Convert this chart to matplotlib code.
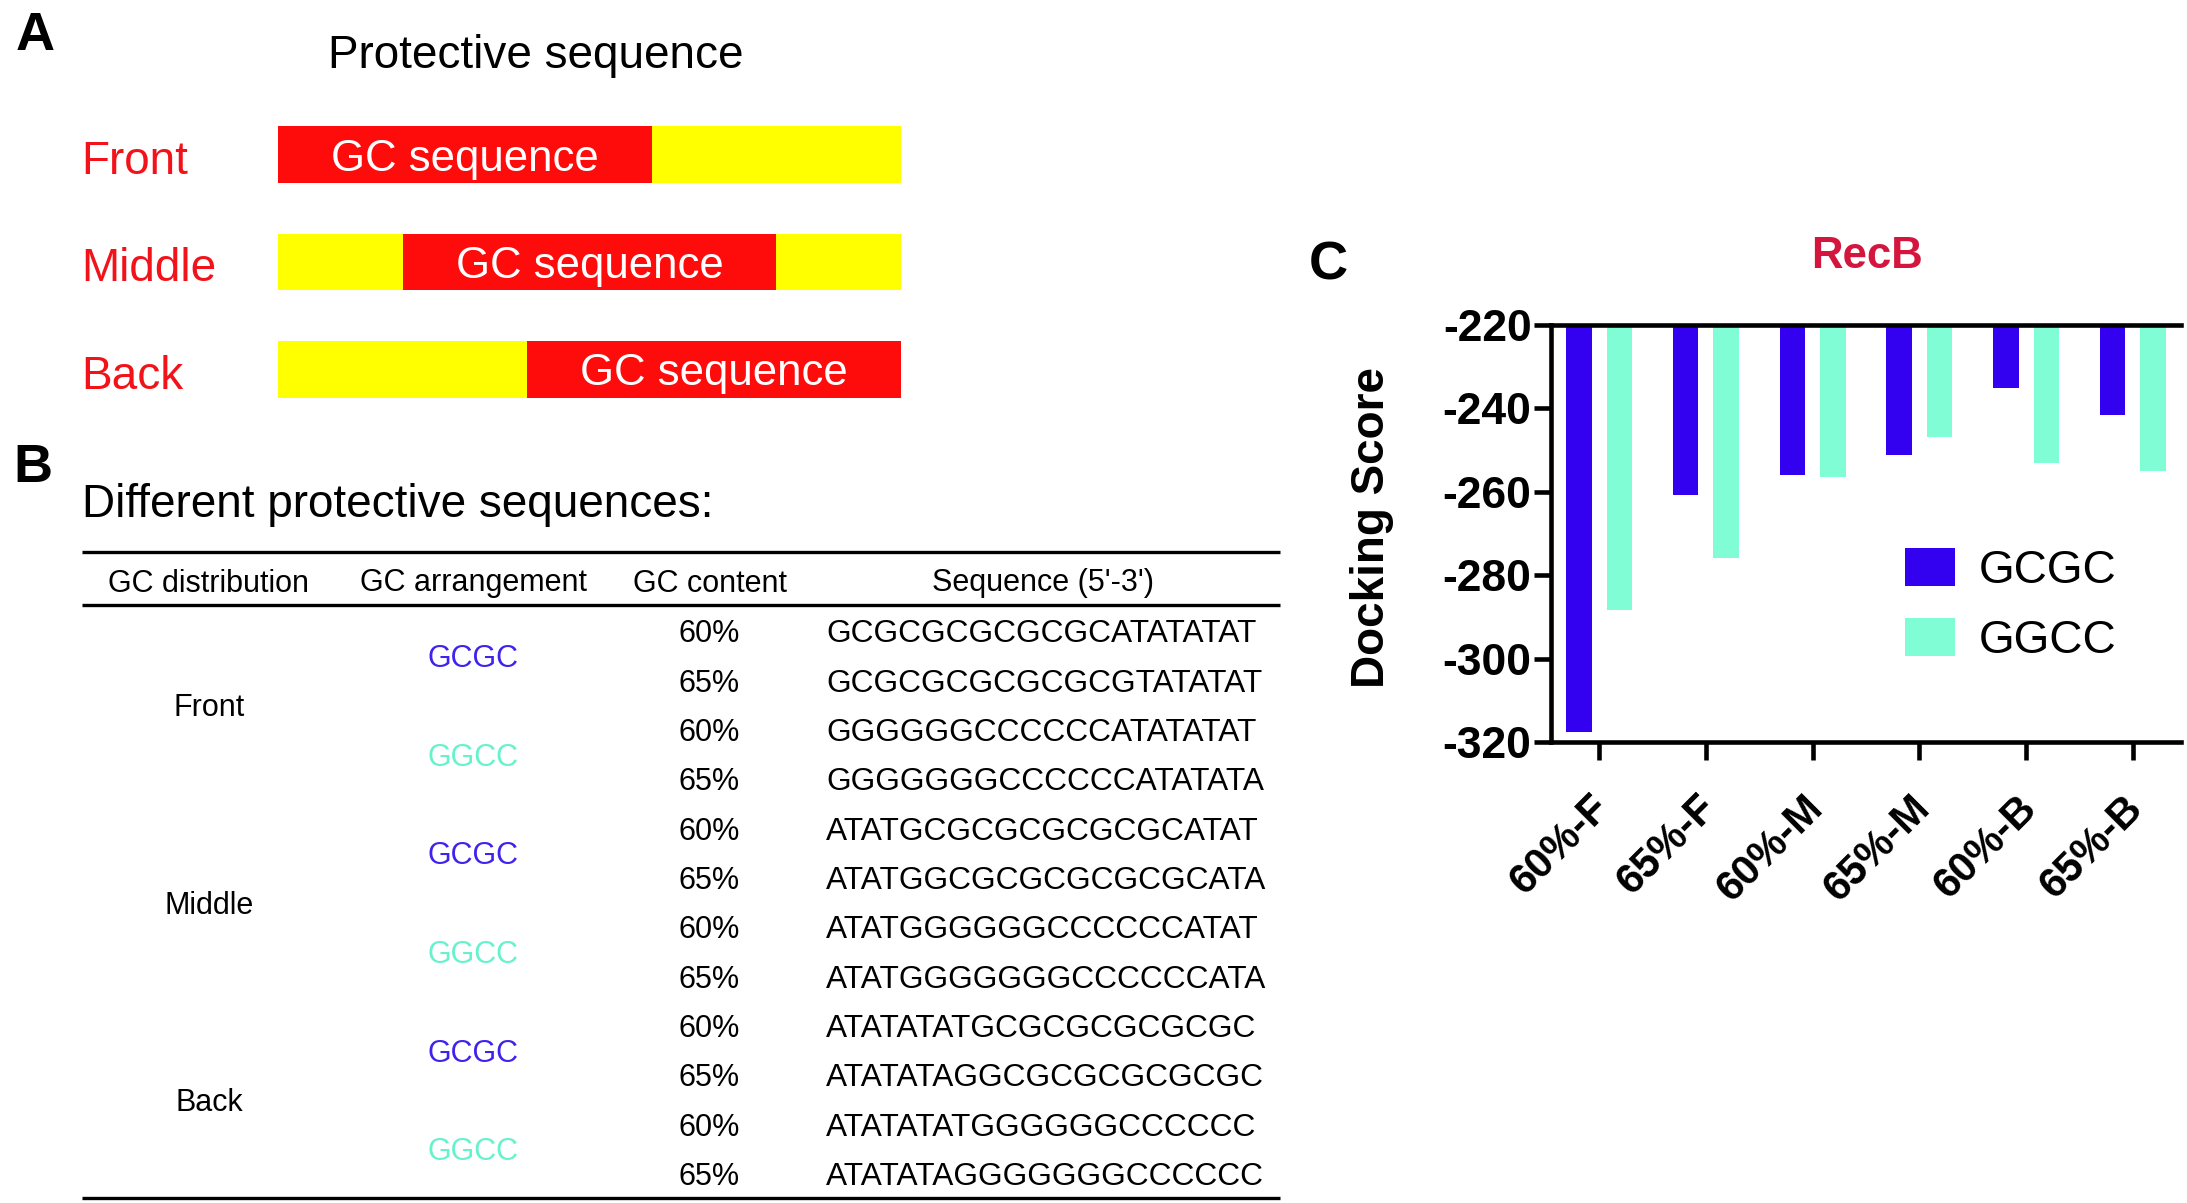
import numpy as np
import matplotlib
matplotlib.use('Agg')
import matplotlib.pyplot as plt
import matplotlib.transforms as mtransforms

W, H = 2187, 1203

# panel A
a_rows = ['Front', 'Middle', 'Back']
gc_start = [0.0, 0.2, 0.4]
gc_share = 0.6

# panel B
table_header = ['GC distribution', 'GC arrangement', 'GC content', "Sequence (5'-3')"]
distributions = ['Front', 'Middle', 'Back']
arrangements = ['GCGC', 'GGCC']
gc_contents = ['60%', '65%']
sequences = [
    'GCGCGCGCGCGCATATATAT',
    'GCGCGCGCGCGCGTATATAT',
    'GGGGGGCCCCCCATATATAT',
    'GGGGGGGCCCCCCATATATA',
    'ATATGCGCGCGCGCGCATAT',
    'ATATGGCGCGCGCGCGCATA',
    'ATATGGGGGGCCCCCCATAT',
    'ATATGGGGGGGCCCCCCATA',
    'ATATATATGCGCGCGCGCGC',
    'ATATATAGGCGCGCGCGCGC',
    'ATATATATGGGGGGCCCCCC',
    'ATATATAGGGGGGGCCCCCC',
]

# panel C
categories = ['60%-F', '65%-F', '60%-M', '65%-M', '60%-B', '65%-B']
gcgc_scores = [-317.6, -260.8, -256.0, -251.2, -235.0, -241.7]
ggcc_scores = [-288.4, -275.8, -256.5, -246.8, -253.2, -255.0]

BLUE = '#3300f0'
AQUA = '#80fdd4'
RED = '#fe0c0c'
TXT_RED = '#f2131a'
YELLOW = '#ffff00'
RECB = '#d4163f'

plt.rcParams['font.family'] = ['Liberation Sans', 'DejaVu Sans']
plt.rcParams['axes.unicode_minus'] = False

fig = plt.figure(figsize=(W / 100, H / 100), dpi=100)


def fx(x):
    return x / W


def fy(y):
    return 1 - y / H


# text layer in pixel coordinates (y downwards)
ax_t = fig.add_axes([0, 0, 1, 1])
ax_t.set_xlim(0, W)
ax_t.set_ylim(H, 0)
ax_t.axis('off')

# panel letters
for letter, (lx, ly) in zip('ABC', [(35, 31), (33, 462), (1328, 260)]):
    ax_t.text(lx, ly, letter, fontsize=39, weight='bold', ha='center', va='center_baseline')

# ---- panel A
ax_t.text(536, 51, 'Protective sequence', fontsize=33, ha='center', va='center_baseline')
row_h = 107.5
a_top = 154.5 - row_h / 2
ax_a = fig.add_axes([fx(278), fy(a_top + 3 * row_h), (901 - 278) / W, 3 * row_h / H])
ax_a.set_xlim(0, 1)
ax_a.set_ylim(2.5, -0.5)
ax_a.axis('off')
for i, (name, s) in enumerate(zip(a_rows, gc_start)):
    ax_a.barh(i, 1, height=0.53, color=YELLOW)
    ax_a.barh(i, gc_share, left=s, height=0.53, color=RED)
    ax_a.text(s + gc_share / 2, i, 'GC sequence', color='white', fontsize=31.5,
              ha='center', va='center_baseline')
    ax_a.text(-0.316, i + 0.02, name, color=TXT_RED, fontsize=33,
              ha='left', va='center_baseline', clip_on=False)

# ---- panel B
ax_t.text(82, 500, 'Different protective sequences:', fontsize=33, ha='left', va='center_baseline')
ax_t.hlines([551.5, 605, 1198], 82, 1280, color='black', lw=2.4)
col_x = [209, 473, 710, 1043]
for cx, head in zip(col_x, table_header):
    ax_t.text(cx, 580, head, fontsize=22, ha='center', va='center_baseline')

row_y = 631 + 49.3 * np.arange(len(sequences))
for i, seq in enumerate(sequences):
    ax_t.text(709, row_y[i], gc_contents[i % 2], fontsize=22, ha='center', va='center_baseline')
    ax_t.text(826, row_y[i], seq, fontsize=22.8, ha='left', va='center_baseline')
for j in range(len(sequences) // 2):
    arr = arrangements[j % 2]
    ax_t.text(473, row_y[2 * j:2 * j + 2].mean(), arr, fontsize=22,
              color='#3f22ec' if arr == 'GCGC' else '#66f2cc', ha='center', va='center_baseline')
for k, d in enumerate(distributions):
    ax_t.text(209, row_y[4 * k:4 * k + 4].mean(), d, fontsize=22, ha='center', va='center_baseline')

# ---- panel C
ax_c = fig.add_axes([fx(1551), fy(742), (2181 - 1551) / W, (742 - 325) / H])
x = np.arange(len(categories))
ax_c.bar(x - 0.19, np.array(gcgc_scores) + 220, 0.24, bottom=-220, color=BLUE, label='GCGC')
ax_c.bar(x + 0.19, np.array(ggcc_scores) + 220, 0.24, bottom=-220, color=AQUA, label='GGCC')
ax_c.set_xlim(-0.45, 5.45)
ax_c.set_ylim(-320, -220)
ax_c.set_yticks(np.arange(-320, -219, 20))
ax_c.set_xticks(x)
ax_c.set_xticklabels(categories, rotation=45, ha='right', rotation_mode='anchor',
                     fontsize=30, fontweight='bold')
ax_c.tick_params(axis='y', length=12, width=3.3, labelsize=32, pad=2)
ax_c.tick_params(axis='x', length=13, width=3.3, pad=20)
shift = mtransforms.ScaledTranslation(-0.1, 0, fig.dpi_scale_trans)
for lbl in ax_c.get_xticklabels():
    lbl.set_transform(lbl.get_transform() + shift)
for lbl in ax_c.get_yticklabels():
    lbl.set_fontweight('bold')
ax_c.spines['right'].set_visible(False)
for sp in ['left', 'top', 'bottom']:
    ax_c.spines[sp].set_linewidth(3.3)
ax_c.legend(loc='upper left', bbox_to_anchor=(0.562, 0.465), frameon=False, fontsize=33,
            handlelength=1.1, handleheight=0.9, handletextpad=0.5, labelspacing=0.55,
            borderpad=0, borderaxespad=0)
ax_t.text(1372, 527, 'Docking Score', rotation=90, fontsize=33, weight='bold',
          ha='center', va='center')
ax_t.text(1867, 252, 'RecB', color=RECB, fontsize=31.5, weight='bold',
          ha='center', va='center_baseline')

fig.savefig('out.png', dpi=100)
